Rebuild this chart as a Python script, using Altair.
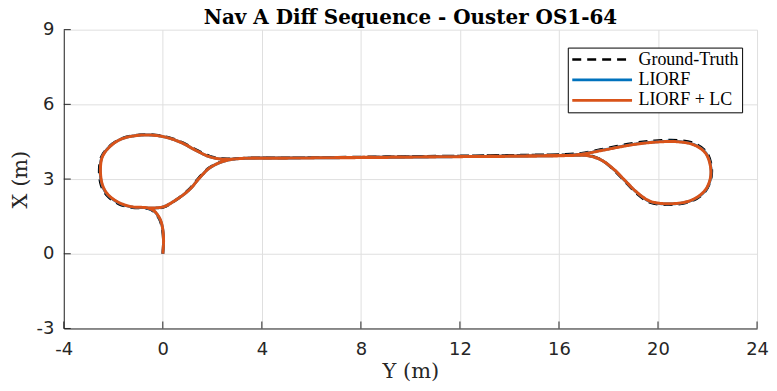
import altair as alt
import pandas as pd

series_names = ["Ground-Truth", "LIORF", "LIORF + LC"]
series_colors = ["#000000", "#0072BD", "#D95319"]

# Ground truth trajectory (Y, X) in metres
gt_y = [0.0, 0.02, -0.02, -0.13, -0.36, -0.62,
        -1.22, -1.78, -2.25, -2.49, -2.57, -2.48, -2.17, -1.69, -0.95, -0.27, 0.28, 0.82, 1.36, 1.9, 2.42, 3.49,
        6.0, 9.0, 12.0, 15.0, 16.2, 16.9,
        17.86, 18.92, 19.87, 20.8, 21.5, 21.96, 22.16, 22.13, 21.88, 21.33, 20.5, 19.68, 19.14, 18.6, 18.2, 17.68, 17.16, 16.5,
        13.0, 9.0, 5.0, 2.95,
        2.4, 1.86, 1.45, 1.04, 0.52, 0.0, -0.62]
gt_x = [0.0, 0.5, 0.97, 1.37, 1.69, 1.82,
        1.85, 2.0, 2.33, 2.74, 3.36, 3.9, 4.31, 4.62, 4.78, 4.77, 4.66, 4.46, 4.17, 3.92, 3.82, 3.85,
        3.86, 3.89, 3.93, 3.97, 3.99, 4.04,
        4.22, 4.43, 4.54, 4.56, 4.42, 4.08, 3.52, 2.96, 2.47, 2.1, 1.97, 2.06, 2.42, 2.97, 3.38, 3.79, 3.97, 3.98,
        3.94, 3.9, 3.85, 3.82,
        3.71, 3.45, 3.05, 2.57, 2.15, 1.86, 1.82]

# LIORF trajectory
lf_y = [0.0, 0.03, 0.0, -0.11, -0.34, -0.61,
        -1.21, -1.75, -2.22, -2.45, -2.53, -2.45, -2.15, -1.68, -0.94, -0.27, 0.27, 0.8, 1.34, 1.88, 2.41, 3.49,
        6.0, 9.0, 12.0, 15.0, 16.2, 16.9,
        17.84, 18.9, 19.85, 20.78, 21.47, 21.93, 22.13, 22.11, 21.87, 21.32, 20.51, 19.7, 19.17, 18.63, 18.23, 17.7, 17.16, 16.5,
        13.0, 9.0, 5.0, 2.95,
        2.41, 1.88, 1.48, 1.07, 0.54, 0.0, -0.61]
lf_x = [0.0, 0.5, 0.97, 1.37, 1.7, 1.83,
        1.87, 2.03, 2.36, 2.76, 3.37, 3.9, 4.3, 4.61, 4.76, 4.75, 4.64, 4.44, 4.15, 3.9, 3.8, 3.84,
        3.85, 3.87, 3.9, 3.93, 3.95, 4.01,
        4.18, 4.38, 4.49, 4.51, 4.38, 4.05, 3.5, 2.97, 2.49, 2.13, 2.0, 2.09, 2.44, 2.97, 3.37, 3.77, 3.94, 3.95,
        3.91, 3.88, 3.84, 3.81,
        3.7, 3.44, 3.04, 2.57, 2.17, 1.88, 1.83]

# LIORF + LC trajectory
lc_y = [0.0, 0.03, 0.0, -0.1, -0.33, -0.6,
        -1.2, -1.74, -2.21, -2.44, -2.52, -2.44, -2.14, -1.67, -0.94, -0.27, 0.27, 0.8, 1.34, 1.88, 2.41, 3.49,
        6.0, 9.0, 12.0, 15.0, 16.2, 16.9,
        17.84, 18.9, 19.85, 20.78, 21.46, 21.92, 22.12, 22.1, 21.86, 21.32, 20.51, 19.71, 19.18, 18.64, 18.24, 17.7, 17.16, 16.5,
        13.0, 9.0, 5.0, 2.95,
        2.41, 1.88, 1.48, 1.07, 0.54, 0.0, -0.6]
lc_x = [0.0, 0.5, 0.97, 1.37, 1.7, 1.84,
        1.88, 2.04, 2.37, 2.77, 3.37, 3.9, 4.3, 4.61, 4.76, 4.75, 4.64, 4.44, 4.15, 3.9, 3.8, 3.84,
        3.85, 3.87, 3.9, 3.92, 3.94, 4.0,
        4.17, 4.37, 4.48, 4.5, 4.37, 4.04, 3.5, 2.97, 2.5, 2.14, 2.01, 2.1, 2.44, 2.97, 3.37, 3.77, 3.94, 3.95,
        3.91, 3.88, 3.84, 3.81,
        3.7, 3.44, 3.04, 2.57, 2.17, 1.88, 1.84]

x_ticks = [-4, 0, 4, 8, 12, 16, 20, 24]
y_ticks = [-3, 0, 3, 6, 9]

rows = []
for name, ys_, xs_ in zip(series_names, [gt_y, lf_y, lc_y], [gt_x, lf_x, lc_x]):
    for i, (a, b) in enumerate(zip(ys_, xs_)):
        rows.append({"series": name, "i": i, "Y": a, "X": b})
df = pd.DataFrame(rows)

W, H = 696, 300
xsc = alt.Scale(domain=[-4, 24], nice=False, zero=False)
ysc = alt.Scale(domain=[-3, 9], nice=False, zero=False)
x_axis = alt.Axis(values=x_ticks, title="Y (m)", labelExpr="'' + datum.value", labelPadding=12,
                  labelFlush=False, labelOverlap=False,
                  titleX=W / 2, titleY=49, titleBaseline="alphabetic", titleAlign="center")
y_axis = alt.Axis(values=y_ticks, title="X (m)", labelExpr="'' + datum.value", labelPadding=10,
                  labelFlush=False, labelOverlap=False,
                  titleX=-37, titleY=H / 2, titleBaseline="alphabetic", titleAlign="center", titleAngle=270)

leg = alt.Legend(
    title=None, orient="none", legendX=506, legendY=18,
    symbolType="stroke", symbolSize=3600, clipHeight=18, labelFont="Liberation Serif",
    labelFontSize=18, labelColor="black", labelOffset=5, rowPadding=2.5,
    padding=3, strokeColor="black", fillColor="white", labelLimit=300,
)

lines = alt.Chart(df).mark_line(interpolate="catmull-rom").encode(
    x=alt.X("Y:Q", scale=xsc, axis=x_axis),
    y=alt.Y("X:Q", scale=ysc, axis=y_axis),
    color=alt.Color("series:N", scale=alt.Scale(domain=series_names, range=series_colors), legend=leg),
    strokeDash=alt.StrokeDash("series:N", scale=alt.Scale(domain=series_names, range=[[9, 6], [1, 0], [1, 0]]), legend=leg),
    strokeWidth=alt.StrokeWidth("series:N", scale=alt.Scale(domain=series_names, range=[2.6, 3.0, 3.6]), legend=leg),
    order="i:Q",
)

xt = alt.Chart(pd.DataFrame({"t": x_ticks})).mark_rule(color="#262626", strokeWidth=1).encode(
    x=alt.X("t:Q", scale=xsc, axis=x_axis), y=alt.value(H), y2=alt.value(H - 7)
)
yt = alt.Chart(pd.DataFrame({"t": y_ticks})).mark_rule(color="#262626", strokeWidth=1).encode(
    y=alt.Y("t:Q", scale=ysc, axis=y_axis), x=alt.value(0), x2=alt.value(7)
)

chart = alt.layer(lines, xt, yt).properties(
    width=W, height=H,
    autosize=alt.AutoSizeParams(type="none"),
    padding={"left": 56, "top": 21, "right": 12, "bottom": 54},
    title=alt.TitleParams("Nav A Diff Sequence - Ouster OS1-64", font="DejaVu Serif", fontSize=20,
                          fontWeight="bold", color="black", offset=1, dy=8, anchor="middle"),
).configure_view(stroke=None).configure_axis(
    labelFont="DejaVu Sans", labelFontSize=18, labelColor="#262626",
    titleFont="DejaVu Serif", titleFontSize=21, titleFontWeight="normal", titleColor="#262626",
    gridColor="#dfdfdf", gridWidth=1, domainColor="#262626", domainWidth=1,
    ticks=False,
)

chart.save("out.html", embed_options={"renderer": "svg", "actions": False})
